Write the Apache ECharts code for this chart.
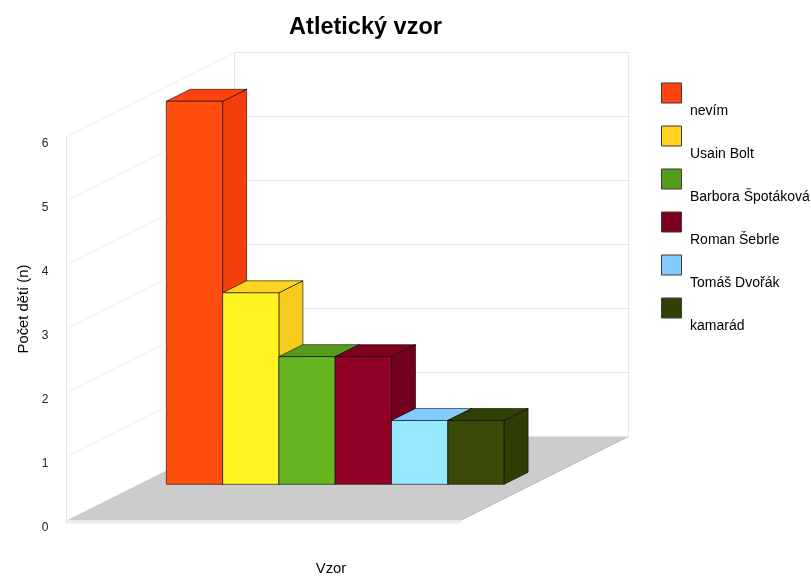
<!DOCTYPE html>
<html>
<head>
<meta charset="utf-8">
<style>html,body{margin:0;padding:0;background:#fff}#chart{width:811px;height:577px}</style>
<script src="https://cdn.jsdelivr.net/npm/echarts@6/dist/echarts.min.js"></script>
</head>
<body>
<div id="chart"></div>
<script>
// Chart content
const chartTitle = 'Atletický vzor';
const xTitle = 'Vzor';
const yTitle = 'Počet dětí (n)';
const categories = ['nevím', 'Usain Bolt', 'Barbora Špotáková', 'Roman Šebrle', 'Tomáš Dvořák', 'kamarád'];
const counts = [6, 3, 2, 2, 1, 1];
const yTicks = [0, 1, 2, 3, 4, 5, 6];

// Face colours of each box
const legendColors = ['#ff420e', '#ffd320', '#579d1c', '#7e0021', '#83caff', '#314004'];
const frontColors = ['#ff4e0d', '#fff321', '#66b521', '#910026', '#96e8ff', '#384a05'];
const sideColors = ['#f53f0b', '#f5cc1e', '#539619', '#73001e', '#7dc1f5', '#2f3c04'];
const topColors = ['#ff420e', '#ffd320', '#579d1c', '#7e0021', '#83caff', '#314004'];

// Oblique projection: offset of the box depth and of the whole chart floor
const boxDepth = [24, -12];
const roomDepth = [168, -84];
const roomWidth = 394;
const wallColor = '#e6e6e6';
const edgeColor = 'rgba(0,0,0,0.58)';
const font = '"Liberation Sans", Arial, sans-serif';

const shift = (p, d) => [p[0] + d[0], p[1] + d[1]];
const poly = (points, fill, stroke, z2) => ({
  type: 'polygon', z2: z2 || 0, shape: { points },
  style: { fill, stroke: stroke || 'none', lineWidth: stroke ? 1 : 0 }
});
const line = (a, b, stroke) => ({
  type: 'line', shape: { x1: a[0], y1: a[1], x2: b[0], y2: b[1] },
  style: { stroke, lineWidth: 1, fill: 'none' }
});

// Floor and the two walls with their horizontal grid lines
function renderRoom(params, api) {
  const v = api.value(1);
  const p = api.coord([0, v]);
  const back = shift(p, roomDepth);
  const backRight = [back[0] + roomWidth, back[1]];
  const children = [];
  if (v === 0) {
    const frontRight = [p[0] + roomWidth, p[1]];
    children.push(poly([p, frontRight, backRight, back], '#cccccc'));
    children.push(poly([p, frontRight, [frontRight[0], frontRight[1] + 3], [p[0], p[1] + 3]], '#eeeeee'));
    children.push(line(frontRight, backRight, '#bdbdbd'));
    const top = api.coord([0, yTicks[yTicks.length - 1]]);
    const topBack = shift(top, roomDepth);
    children.push(line([p[0], p[1] + 3], top, wallColor));
    children.push(line(back, topBack, wallColor));
    children.push(line(backRight, [backRight[0], topBack[1]], wallColor));
    children.push(line(back, backRight, wallColor));
  } else {
    children.push(line(p, back, '#f0f0f0'));
    children.push(line(back, backRight, wallColor));
  }
  return { type: 'group', children };
}

// One box: front, side and top faces from the category band and the value
function renderBox(params, api) {
  const i = api.value(0);
  const half = api.size([1, 0])[0] / 2;
  const centreTop = api.coord([i, api.value(1)]);
  const centreBase = api.coord([i, 0]);
  const tl = [centreTop[0] - half, centreTop[1]];
  const tr = [centreTop[0] + half, centreTop[1]];
  const bl = [centreBase[0] - half, centreBase[1]];
  const br = [centreBase[0] + half, centreBase[1]];
  return {
    type: 'group',
    children: [
      poly([tr, br, shift(br, boxDepth), shift(tr, boxDepth)], sideColors[i], edgeColor),
      poly([tl, tr, shift(tr, boxDepth), shift(tl, boxDepth)], topColors[i], edgeColor),
      poly([tl, tr, br, bl], frontColors[i], edgeColor)
    ]
  };
}

const boxSeries = categories.map((name, i) => ({
  name,
  type: 'custom',
  coordinateSystem: 'cartesian2d',
  xAxisIndex: 1,
  yAxisIndex: 1,
  clip: false,
  silent: true,
  z: 5,
  itemStyle: { color: legendColors[i] },
  encode: { x: 0, y: 1 },
  data: [[i, counts[i]]],
  renderItem: renderBox
}));

const chart = echarts.init(document.getElementById('chart'), null, { renderer: 'canvas' });
chart.setOption({
  animation: false,
  backgroundColor: '#ffffff',
  title: {
    text: chartTitle,
    left: 360.5,
    top: 11,
    textAlign: 'center',
    textStyle: { fontFamily: font, fontSize: 23.5, fontWeight: 'bold', color: '#000' }
  },
  legend: {
    data: categories,
    orient: 'vertical',
    left: 661,
    top: 57,
    height: 510,
    padding: 0,
    icon: 'rect',
    itemWidth: 20,
    itemHeight: 20,
    itemGap: -29,
    // The blank first line drops each name below its colour swatch
    formatter: name => '\n{n|' + name + '}',
    itemStyle: { borderColor: '#3a3a3a', borderWidth: 1 },
    textStyle: {
      fontFamily: font, fontSize: 14, color: '#000', lineHeight: 36,
      rich: { n: { fontFamily: font, fontSize: 14, color: '#000', lineHeight: 36, padding: [0, 0, 0, 3.5] } }
    }
  },
  grid: [
    { left: 66.5, top: 136.5, width: roomWidth, height: 384 },
    { left: 166.3, top: 101.3, width: 337.8, height: 383 }
  ],
  xAxis: [
    { gridIndex: 0, type: 'value', min: 0, max: 1, show: false },
    { gridIndex: 1, type: 'category', data: categories, show: false }
  ],
  yAxis: [
    {
      gridIndex: 0, type: 'value', min: 0, max: 6, interval: 1,
      axisLine: { show: false }, axisTick: { show: false }, splitLine: { show: false },
      axisLabel: { fontFamily: font, fontSize: 12, color: '#222', margin: 18, verticalAlign: 'top', lineHeight: 15 }
    },
    { gridIndex: 1, type: 'value', min: 0, max: 6, show: false }
  ],
  graphic: [
    {
      type: 'text', x: 24, y: 309, rotation: Math.PI / 2,
      style: { text: yTitle, fontFamily: font, fontSize: 14.8, fill: '#000', align: 'center', verticalAlign: 'middle' }
    },
    {
      type: 'text', x: 331, y: 569,
      style: { text: xTitle, fontFamily: font, fontSize: 14.8, fill: '#000', align: 'center', verticalAlign: 'middle' }
    }
  ],
  series: [
    {
      type: 'custom',
      coordinateSystem: 'cartesian2d',
      xAxisIndex: 0,
      yAxisIndex: 0,
      clip: false,
      silent: true,
      z: 1,
      encode: { x: 0, y: 1 },
      data: yTicks.map(v => [0, v]),
      renderItem: renderRoom
    }
  ].concat(boxSeries)
});
</script>
</body>
</html>
